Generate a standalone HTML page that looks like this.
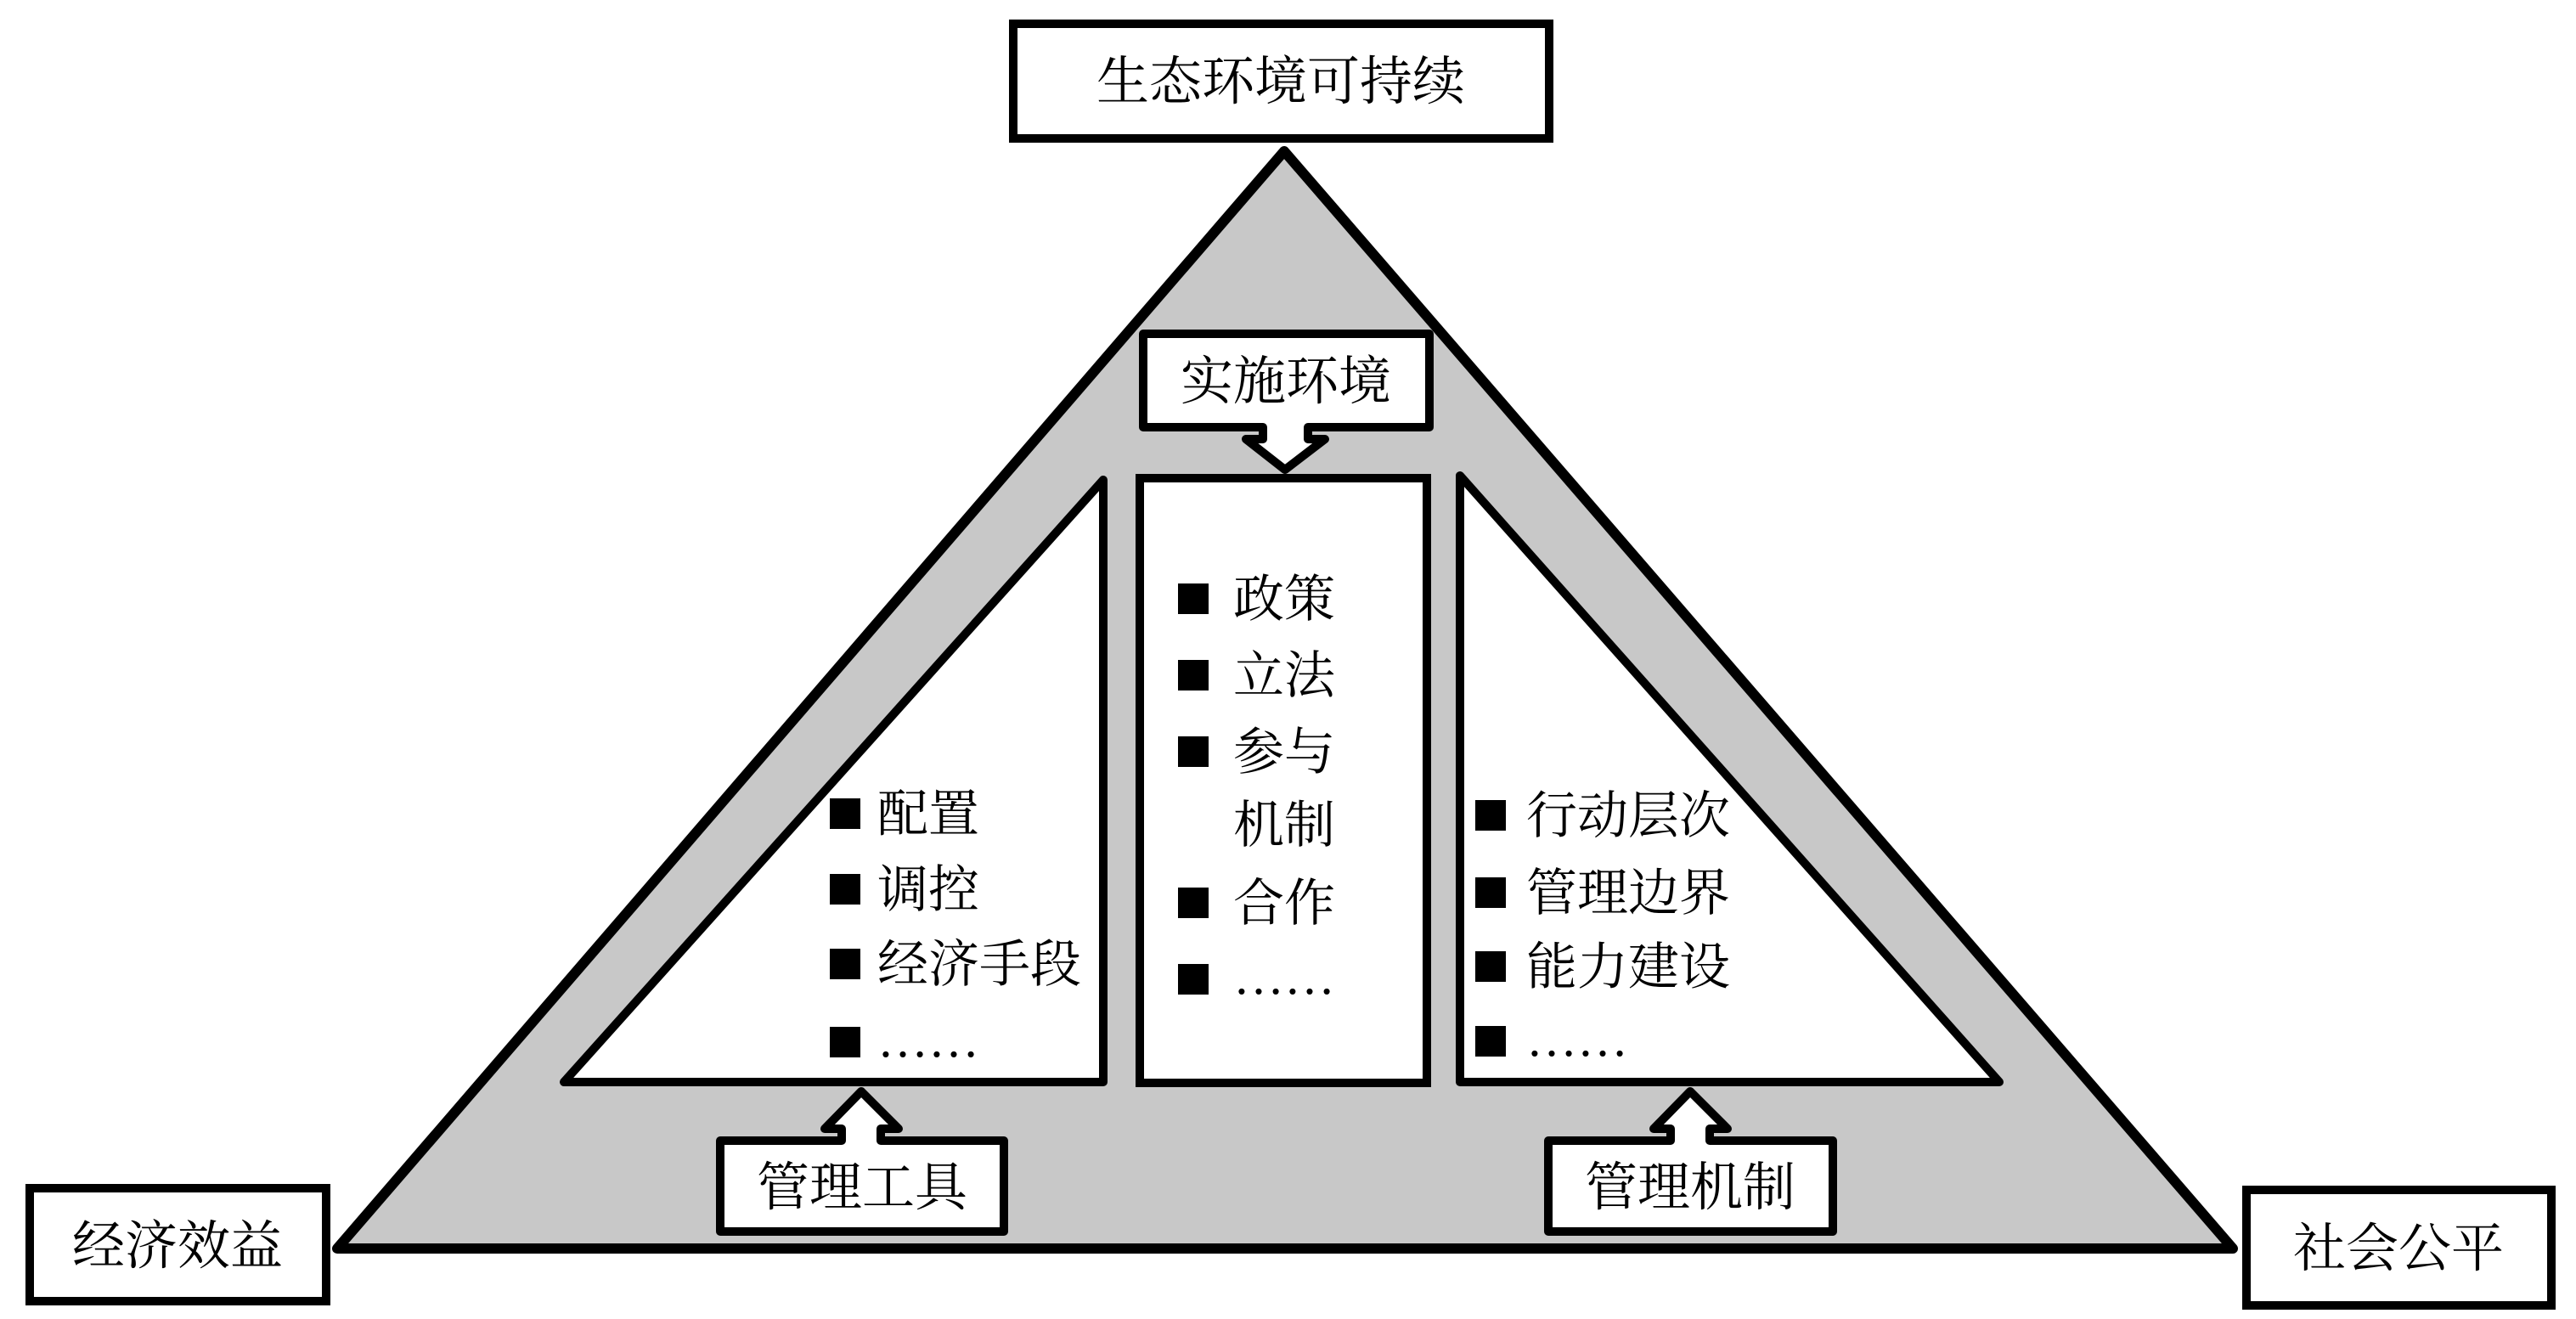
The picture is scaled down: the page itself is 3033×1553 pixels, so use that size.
<!DOCTYPE html>
<html><head><meta charset="utf-8"><style>
html,body{margin:0;padding:0;background:#fff;}
svg{display:block;}
text{font-family:"Liberation Serif","Noto Serif CJK SC",serif;fill:#000;}
</style></head><body>
<svg width="3033" height="1553" viewBox="0 0 3033 1553" xmlns="http://www.w3.org/2000/svg">
<!-- outer triangle -->
<polygon points="1512,178 397,1470 2629,1470" fill="#c8c8c8" stroke="#000" stroke-width="12" stroke-linejoin="round"/>
<!-- top box -->
<rect x="1193" y="28" width="631" height="135" fill="#fff" stroke="#000" stroke-width="10"/>
<text x="1508" y="117" font-size="62" text-anchor="middle">生态环境可持续</text>
<!-- inner left triangle -->
<polygon points="1299,565 664,1274 1299,1274" fill="#fff" stroke="#000" stroke-width="10" stroke-linejoin="round"/>
<!-- inner right triangle -->
<polygon points="1719,560 1719,1274 2354,1274" fill="#fff" stroke="#000" stroke-width="10" stroke-linejoin="round"/>
<!-- middle box -->
<rect x="1342" y="563" width="338" height="712" fill="#fff" stroke="#000" stroke-width="10"/>
<!-- 实施环境 arrow box -->
<path d="M1346,393 H1683 V503 H1540 V517 H1560 L1513,553 L1467,517 H1487 V503 H1346 Z" fill="#fff" stroke="#000" stroke-width="10" stroke-linejoin="round"/>
<text x="1514" y="470" font-size="62" text-anchor="middle">实施环境</text>
<!-- 管理工具 -->
<path d="M848,1343 H991 V1329 H971 L1014,1285 L1058,1329 H1037 V1343 H1182 V1450 H848 Z" fill="#fff" stroke="#000" stroke-width="10" stroke-linejoin="round"/>
<text x="1015" y="1419" font-size="62" text-anchor="middle">管理工具</text>
<!-- 管理机制 -->
<path d="M1823,1343 H1967 V1329 H1947 L1990,1285 L2034,1329 H2013 V1343 H2158 V1450 H1823 Z" fill="#fff" stroke="#000" stroke-width="10" stroke-linejoin="round"/>
<text x="1990" y="1419" font-size="62" text-anchor="middle">管理机制</text>
<!-- corner boxes -->
<rect x="35" y="1399" width="349" height="133" fill="#fff" stroke="#000" stroke-width="10"/>
<text x="209" y="1488" font-size="62" text-anchor="middle">经济效益</text>
<rect x="2645" y="1401" width="359" height="136" fill="#fff" stroke="#000" stroke-width="10"/>
<text x="2824" y="1491" font-size="62" text-anchor="middle">社会公平</text>
<!-- left list -->
<g font-size="60">
<rect x="977" y="940" width="36" height="36"/><text x="1033" y="979">配置</text>
<rect x="977" y="1029" width="36" height="36"/><text x="1033" y="1068">调控</text>
<rect x="977" y="1117" width="36" height="36"/><text x="1033" y="1156">经济手段</text>
<rect x="977" y="1209" width="36" height="36"/><text x="1033" y="1244">……</text>
<!-- middle list -->
<rect x="1387" y="687" width="36" height="36"/><text x="1452" y="726">政策</text>
<rect x="1387" y="777" width="36" height="36"/><text x="1452" y="816">立法</text>
<rect x="1387" y="867" width="36" height="36"/><text x="1452" y="906">参与</text>
<text x="1452" y="992">机制</text>
<rect x="1387" y="1045" width="36" height="36"/><text x="1452" y="1084">合作</text>
<rect x="1387" y="1135" width="36" height="36"/><text x="1452" y="1170">……</text>
<!-- right list -->
<rect x="1737" y="942" width="36" height="36"/><text x="1797" y="981">行动层次</text>
<rect x="1737" y="1033" width="36" height="36"/><text x="1797" y="1072">管理边界</text>
<rect x="1737" y="1120" width="36" height="36"/><text x="1797" y="1159">能力建设</text>
<rect x="1737" y="1208" width="36" height="36"/><text x="1797" y="1243">……</text>
</g>
</svg>
</body></html>
